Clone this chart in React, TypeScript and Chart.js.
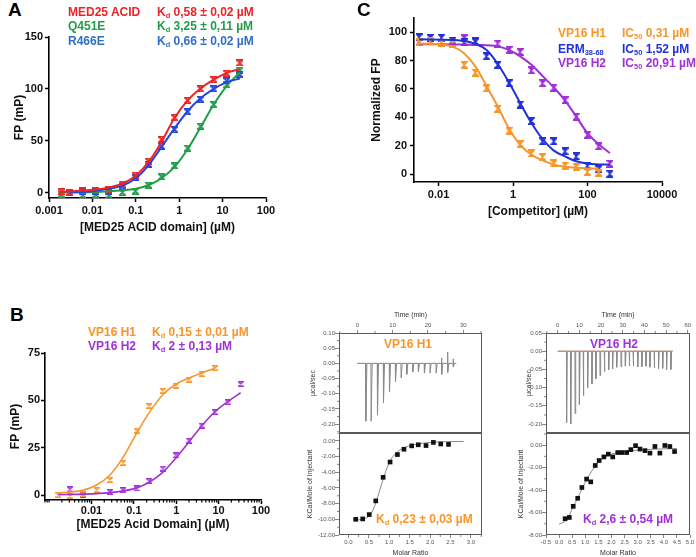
import React, { useEffect, useRef } from 'react';
import { Chart, registerables } from 'chart.js';

Chart.register(...registerables);

const FONT = '"Liberation Sans", Arial, Helvetica, sans-serif';

// ---------------- colours ----------------
const RED = '#ec2427';
const GREEN = '#1f9e48';
const BLUE_A_TEXT = '#2f6fc6';
const BLUE_A = '#2446e0';
const ORANGE = '#f7962b';
const PURPLE = '#a030d8';
const BLUE_C = '#2231d6';

// ---------------- Panel A ----------------
const A_SERIES = ['MED25 ACID', 'Q451E', 'R466E'];
const A_KD = ['0,58 ± 0,02 µM', '3,25 ± 0,11 µM', '0,66 ± 0,02 µM'];
const A_X_TICKS = [0.001, 0.01, 0.1, 1, 10, 100];
const A_X_LABELS = ['0.001', '0.01', '0.1', '1', '10', '100'];
const A_Y_TICKS = [0, 50, 100, 150];

const A_WT_CONC = [0.0019, 0.003, 0.006, 0.012, 0.024, 0.049, 0.098, 0.195, 0.39, 0.78, 1.56, 3.125, 6.25, 12.5, 25];
const A_WT_FP = [1, 0, 2, 2.6, 3, 8.3, 17, 30.4, 51.3, 72.4, 89, 100, 109, 115, 125];
const A_R466E_CONC = [0.003, 0.006, 0.012, 0.024, 0.049, 0.098, 0.195, 0.39, 0.78, 1.56, 3.125, 6.25, 12.5, 25];
const A_R466E_FP = [0, 1, 1, 1, 6.4, 14.7, 27.6, 45, 61, 78, 90, 100, 107.7, 114];
const A_Q451E_CONC = [0.0019, 0.006, 0.012, 0.024, 0.049, 0.098, 0.195, 0.39, 0.78, 1.56, 3.125, 6.25, 12.5, 25];
const A_Q451E_FP = [-1.3, -2.2, -1.6, -2.2, 0.3, 1.6, 7.4, 15.4, 26, 43, 64, 85, 104, 118];

const A_FIT_WT_X = [0.0019, 0.005, 0.01, 0.02, 0.05, 0.1, 0.2, 0.39, 0.78, 1.56, 3.1, 6.25, 12.5, 25];
const A_FIT_WT_Y = [1, 2, 3, 4.5, 9, 16.5, 30, 49, 72, 89, 100.5, 109, 115.5, 119];
const A_FIT_R466E_X = [0.003, 0.01, 0.02, 0.05, 0.1, 0.2, 0.39, 0.78, 1.56, 3.1, 6.25, 12.5, 25];
const A_FIT_R466E_Y = [0.5, 1.5, 3.5, 7, 14, 27, 44, 62, 78.5, 91, 100, 106.5, 110];
const A_FIT_Q451E_X = [0.0019, 0.01, 0.05, 0.1, 0.2, 0.39, 0.78, 1.56, 3.1, 6.25, 12.5, 25];
const A_FIT_Q451E_Y = [0.2, 0.8, 2.5, 4, 7.5, 14, 25, 42, 63, 85, 103, 116];

// ---------------- Panel B ----------------
const B_SERIES = ['VP16 H1', 'VP16 H2'];
const B_KD = ['0,15 ± 0,01 µM', '2 ± 0,13 µM'];
const B_X_TICKS = [0.01, 0.1, 1, 10, 100];
const B_X_LABELS = ['0.01', '0.1', '1', '10', '100'];
const B_Y_TICKS = [0, 25, 50, 75];

const B_H1_CONC = [0.00165, 0.0031, 0.0064, 0.0132, 0.0273, 0.056, 0.116, 0.23, 0.48, 0.98, 1.99, 3.97, 8.2];
const B_H1_FP = [0, -0.5, 0.5, 2.6, 8, 17, 34, 47, 55, 57.7, 61, 64, 67];
const B_H2_CONC = [0.0031, 0.0064, 0.0273, 0.056, 0.116, 0.23, 0.48, 0.98, 1.99, 3.97, 8.2, 16.8, 33];
const B_H2_FP = [3, 0, 1.6, 2.6, 3.5, 7.4, 14, 21, 28.8, 36.7, 43.8, 49, 58.6];
const B_FIT_H1_X = [0.00165, 0.0064, 0.0132, 0.0273, 0.056, 0.116, 0.23, 0.48, 0.98, 1.99, 3.97, 8.2];
const B_FIT_H1_Y = [1, 2.6, 5.3, 10.6, 20, 32.6, 43.5, 53, 58.5, 61.8, 64.5, 67];
const B_FIT_H2_X = [0.00165, 0.0064, 0.0273, 0.056, 0.116, 0.23, 0.48, 0.98, 1.99, 3.97, 8.2, 16.8, 33];
const B_FIT_H2_Y = [0.2, 0.5, 1.3, 2.2, 3.8, 6.8, 12, 19.5, 28, 36.5, 44, 49.5, 54];

// ---------------- Panel C ----------------
const C_IC50 = ['0,31 µM', '1,52 µM', '20,91 µM'];
const C_X_TICKS = [0.01, 1, 100, 10000];
const C_X_LABELS = ['0.01', '1', '100', '10000'];
const C_Y_TICKS = [0, 20, 40, 60, 80, 100];

const C_H1_CONC = [0.003, 0.006, 0.012, 0.024, 0.049, 0.098, 0.195, 0.39, 0.78, 1.56, 3.125, 6.25, 12.5, 25, 50, 100, 200];
const C_H1_FP = [93, 94, 92.5, 92, 77, 71.5, 60.5, 46, 30.5, 21, 14.5, 12, 7.5, 6, 5, 1.5, 1];
const C_ERM_CONC = [0.003, 0.006, 0.012, 0.024, 0.049, 0.098, 0.195, 0.39, 0.78, 1.56, 3.125, 6.25, 12.5, 25, 50, 100, 200, 400];
const C_ERM_FP = [96.4, 96, 96, 94, 93, 93.5, 83, 77, 64, 49, 37.5, 23, 23, 16, 12.4, 6, 3.5, 0.2];
const C_H2_CONC = [0.003, 0.049, 0.098, 0.39, 0.78, 1.56, 3.125, 6.25, 12.5, 25, 50, 100, 200, 400];
const C_H2_FP = [93, 95.7, 93, 92, 87.5, 86, 73, 64, 61, 52, 40.5, 27.7, 19.5, 7.3];

const C_FIT_H1_X = [0.003, 0.012, 0.024, 0.049, 0.098, 0.195, 0.39, 0.78, 1.56, 3.125, 6.25, 12.5, 25, 50, 100, 200];
const C_FIT_H1_Y = [92, 91.4, 89.8, 85, 75.7, 62, 47.6, 32, 20.6, 13.6, 9.6, 6.6, 5.2, 4.4, 4, 3.9];
const C_FIT_ERM_X = [0.003, 0.024, 0.049, 0.098, 0.195, 0.39, 0.78, 1.56, 3.125, 6.25, 12.5, 25, 50, 100, 200, 400];
const C_FIT_ERM_Y = [95, 94.5, 93.8, 91.7, 87.5, 77.6, 64.5, 50, 36, 24.6, 16.5, 12.4, 9, 7.3, 6.8, 6.6];
const C_FIT_H2_X = [0.003, 0.1, 0.39, 0.78, 1.56, 3.125, 6.25, 12.5, 25, 50, 100, 200, 400];
const C_FIT_H2_Y = [91.5, 91, 90, 87.5, 83, 77, 69, 61, 51.8, 40.5, 28.8, 21, 14.8];

// ---------------- ITC VP16 H1 ----------------
const ITC1_TIME_TICKS = [0, 10, 20, 30];
const ITC1_RAW_TICKS = [-0.2, -0.15, -0.1, -0.05, 0, 0.05, 0.1];
const ITC1_HEAT_TICKS = [-12, -10, -8, -6, -4, -2, 0];
const ITC1_RATIO_TICKS = [0, 0.5, 1, 1.5, 2, 2.5, 3];
const ITC1_INJ_TIME = [2.4, 3.9, 5.7, 7.4, 9.1, 10.8, 12.4, 14.0, 15.7, 17.3, 19.0, 20.6, 22.3, 23.9, 25.6, 27.2];
const ITC1_INJ_PEAK = [-0.19, -0.19, -0.17, -0.13, -0.094, -0.061, -0.048, -0.036, -0.028, -0.028, -0.032, -0.032, -0.032, -0.036, -0.03, -0.012];
const ITC1_INJ_UP = [0, 0, 0, 0, 0, 0, 0, 0, 0, 0, 0, 0, 0, 0.018, 0.037, 0.015];
const ITC1_TRACE_SPAN = [0, 28];
const ITC1_RATIO = [0.18, 0.35, 0.51, 0.67, 0.85, 1.02, 1.2, 1.36, 1.55, 1.71, 1.9, 2.08, 2.26, 2.45];
const ITC1_HEAT = [-10.0, -9.95, -9.4, -7.65, -4.65, -2.7, -1.75, -1.07, -0.64, -0.5, -0.6, -0.2, -0.4, -0.45];
const ITC1_FIT_X = [0.12, 0.3, 0.45, 0.55, 0.65, 0.75, 0.85, 0.95, 1.05, 1.2, 1.4, 1.7, 2.0, 2.4, 2.82];
const ITC1_FIT_Y = [-10.1, -10.05, -9.8, -9.3, -8.2, -6.6, -4.9, -3.4, -2.3, -1.4, -0.8, -0.4, -0.2, -0.1, -0.08];

// ---------------- ITC VP16 H2 ----------------
const ITC2_TIME_TICKS = [0, 10, 20, 30, 40, 50, 60];
const ITC2_RAW_TICKS = [-0.2, -0.15, -0.1, -0.05, 0, 0.05];
const ITC2_HEAT_TICKS = [-8, -6, -4, -2, 0];
const ITC2_RATIO_TICKS = [-0.5, 0, 0.5, 1, 1.5, 2, 2.5, 3, 3.5, 4, 4.5, 5];
const ITC2_INJ_TIME = [4.1, 6.0, 8.0, 10.0, 11.8, 13.8, 15.8, 17.6, 19.5, 21.5, 23.5, 25.3, 27.2, 29.2, 31.2, 33.0, 34.8, 36.9, 38.8, 40.7, 42.5, 44.5, 46.5, 48.4, 50.2, 52.2];
const ITC2_INJ_PEAK = [-0.196, -0.2, -0.171, -0.147, -0.122, -0.1, -0.09, -0.076, -0.067, -0.056, -0.051, -0.049, -0.044, -0.043, -0.041, -0.04, -0.041, -0.043, -0.043, -0.041, -0.044, -0.046, -0.048, -0.047, -0.051, -0.05];
const ITC2_INJ_UP = ITC2_INJ_TIME.map(() => 0);
const ITC2_TRACE_SPAN = [0, 53];
const ITC2_RATIO = [0.23, 0.39, 0.54, 0.71, 0.87, 1.05, 1.21, 1.38, 1.53, 1.71, 1.88, 2.05, 2.24, 2.4, 2.58, 2.74, 2.92, 3.09, 3.28, 3.47, 3.66, 3.85, 4.04, 4.23, 4.41];
const ITC2_HEAT = [-6.55, -6.44, -5.45, -4.73, -3.77, -3.02, -3.27, -1.81, -1.37, -1.05, -0.8, -1.05, -0.66, -0.66, -0.66, -0.4, -0.05, -0.35, -0.49, -0.71, -0.12, -0.71, -0.03, -0.12, -0.57];
const ITC2_FIT_X = [0.0, 0.3, 0.5, 0.75, 1.0, 1.25, 1.5, 1.75, 2.0, 2.5, 3.0, 3.5, 4.0, 4.5];
const ITC2_FIT_Y = [-7.05, -6.6, -5.7, -4.5, -3.3, -2.3, -1.55, -1.05, -0.8, -0.55, -0.45, -0.38, -0.33, -0.3];

// ---------------- helpers ----------------
const pts = (xs: number[], ys: number[]) => xs.map((x, i) => ({ x, y: ys[i] }));

function makeMarker(color: string, w: number, h: number, filled: boolean, lw: number) {
  const c = document.createElement('canvas');
  c.width = w;
  c.height = h;
  const g = c.getContext('2d')!;
  g.strokeStyle = color;
  g.fillStyle = color;
  g.lineWidth = lw;
  if (filled) {
    g.beginPath(); g.moveTo(0, 0); g.lineTo(w, 0); g.lineTo(w / 2, h / 2); g.closePath(); g.fill();
    g.beginPath(); g.moveTo(0, h); g.lineTo(w, h); g.lineTo(w / 2, h / 2); g.closePath(); g.fill();
  }
  g.beginPath();
  g.moveTo(0, lw / 2); g.lineTo(w, lw / 2);
  g.moveTo(0, h - lw / 2); g.lineTo(w, h - lw / 2);
  g.moveTo(0.5, 0.5); g.lineTo(w - 0.5, h - 0.5);
  g.moveTo(w - 0.5, 0.5); g.lineTo(0.5, h - 0.5);
  g.stroke();
  return c;
}

const pointSet = (xs: number[], ys: number[], marker: any) => ({
  data: pts(xs, ys), showLine: false, pointStyle: marker, pointRadius: 4, borderWidth: 0,
});
const fitSet = (xs: number[], ys: number[], color: string, w: number) => ({
  data: pts(xs, ys), showLine: true, borderColor: color, borderWidth: w, pointRadius: 0,
  cubicInterpolationMode: 'monotone', fill: false,
});

function traceData(span: number[], times: number[], peaks: number[], ups: number[]) {
  const out: { x: number; y: number }[] = [{ x: span[0], y: 0 }];
  times.forEach((t, i) => {
    out.push({ x: t - 0.06, y: 0 });
    if (ups[i]) out.push({ x: t - 0.03, y: ups[i] });
    out.push({ x: t, y: peaks[i] });
    out.push({ x: t + 0.3, y: 0 });
  });
  out.push({ x: span[1], y: 0 });
  return out;
}

const minorTickPlugin = {
  id: 'minorTicks',
  afterDraw(chart: any, _a: any, opts: any) {
    const items = opts && opts.items;
    if (!items) return;
    const ctx = chart.ctx;
    const ca = chart.chartArea;
    ctx.save();
    for (const it of items) {
      const s = chart.scales[it.scale];
      if (!s) continue;
      ctx.strokeStyle = it.color || '#000';
      ctx.lineWidth = it.width || 1;
      ctx.beginPath();
      for (const v of it.values) {
        if (v < s.min || v > s.max) continue;
        const p = s.getPixelForValue(v);
        if (s.isHorizontal()) {
          const top = s.position === 'top';
          const y0 = top ? ca.top : ca.bottom;
          ctx.moveTo(p, y0);
          ctx.lineTo(p, y0 + (top ? -it.len : it.len));
        } else {
          ctx.moveTo(ca.left, p);
          ctx.lineTo(ca.left - it.len, p);
        }
      }
      ctx.stroke();
    }
    ctx.restore();
  },
};

const framePlugin = {
  id: 'frame',
  afterDatasetsDraw(chart: any) {
    const { left, top, right, bottom } = chart.chartArea;
    const ctx = chart.ctx;
    ctx.save();
    ctx.strokeStyle = '#5a5a5a';
    ctx.lineWidth = 1;
    ctx.strokeRect(Math.round(left) + 0.5, Math.round(top) + 0.5, Math.round(right - left) - 1, Math.round(bottom - top) - 1);
    ctx.restore();
  },
};

function logMinors(min: number, max: number) {
  const out: number[] = [];
  for (let e = -5; e <= 4; e++) {
    for (let m = 1; m <= 9; m++) {
      const v = m * Math.pow(10, e);
      if (v >= min && v <= max && !(m === 1 && e >= -2)) out.push(v);
    }
  }
  return out;
}

function stepMinors(min: number, max: number, start: number, step: number) {
  const out: number[] = [];
  for (let v = start; v <= max + 1e-9; v += step) if (v >= min) out.push(v);
  return out;
}

const fixWidth = (w: number) => (s: any) => { s.width = w; s.paddingTop = 0; s.paddingBottom = 0; };
const fixHeight = (h: number) => (s: any) => { s.height = h; s.paddingLeft = 0; s.paddingRight = 0; };

// ---------------- FP chart config ----------------
function fpConfig(p: any) {
  const tickFont = { family: FONT, size: 11, weight: 'bold' as const };
  const titleFont = { family: FONT, size: 12, weight: 'bold' as const };
  return {
    type: 'scatter',
    data: { datasets: p.datasets },
    options: {
      animation: false,
      responsive: false,
      devicePixelRatio: 1,
      layout: { autoPadding: false, padding: { top: p.padTop, right: p.padRight, left: 0, bottom: 0 } },
      plugins: { legend: { display: false }, tooltip: { enabled: false }, minorTicks: { items: p.minor || [] } },
      scales: {
        x: {
          type: 'logarithmic',
          min: p.xmin,
          max: p.xmax,
          afterBuildTicks: (s: any) => { s.ticks = p.xTicks.map((v: number) => ({ value: v })); },
          afterFit: fixHeight(p.xH),
          ticks: {
            callback: (_v: any, i: number) => p.xLabels[i],
            autoSkip: false, maxRotation: 0, minRotation: 0, padding: p.xTickPad, color: '#111', font: tickFont,
          },
          grid: { display: true, drawOnChartArea: false, drawTicks: true, tickLength: p.tickLen, tickWidth: 1.5, tickColor: '#000' },
          border: { display: true, color: '#000', width: 1.6 },
          title: { display: true, text: p.xTitle, color: '#111', font: titleFont, padding: { top: 0, bottom: 0 } },
        },
        y: {
          type: 'linear',
          min: p.ymin,
          max: p.ymax,
          afterBuildTicks: (s: any) => { s.ticks = p.yTicks.map((v: number) => ({ value: v })); },
          afterFit: fixWidth(p.yW),
          ticks: { callback: (v: any) => String(v), padding: p.yTickPad, color: '#111', font: tickFont },
          grid: { display: true, drawOnChartArea: false, drawTicks: true, tickLength: p.tickLen, tickWidth: 1.5, tickColor: '#000' },
          border: { display: true, color: '#000', width: 1.6 },
          title: { display: true, text: p.yTitle, color: '#111', font: titleFont, padding: { top: p.yTitlePad, bottom: 0 } },
        },
      },
    },
    plugins: [minorTickPlugin],
  };
}

// ---------------- ITC chart config ----------------
function itcConfig(p: any) {
  const tickFont = { family: FONT, size: 6 };
  const yTickFont = { family: FONT, size: 6, lineHeight: 0.01 };
  const titleFont = { family: FONT, size: 7 };
  const gridX = { display: true, drawOnChartArea: false, drawTicks: true, tickLength: 3, tickWidth: 0.8, tickColor: '#666' };
  const gridY = { display: true, drawOnChartArea: false, drawTicks: true, tickLength: 4, tickWidth: 0.8, tickColor: '#666' };
  return {
    type: 'scatter',
    data: { datasets: p.datasets },
    options: {
      animation: false,
      responsive: false,
      devicePixelRatio: 1,
      layout: { autoPadding: false, padding: { top: p.padTop, right: p.padRight, left: 0, bottom: p.padBottom } },
      plugins: { legend: { display: false }, tooltip: { enabled: false }, minorTicks: { items: p.minor || [] } },
      scales: {
        x: {
          type: 'linear',
          position: p.xPos,
          min: p.xmin,
          max: p.xmax,
          afterBuildTicks: (s: any) => { s.ticks = p.xTicks.map((v: number) => ({ value: v })); },
          afterFit: fixHeight(p.xH),
          ticks: { callback: (v: number) => v.toFixed(p.xDec), autoSkip: false, maxRotation: 0, padding: 1, color: '#555', font: tickFont },
          grid: gridX,
          border: { display: false },
          title: { display: true, text: p.xTitle, color: '#333', font: titleFont, padding: { top: p.xTitlePadTop, bottom: 0 } },
        },
        y: {
          type: 'linear',
          min: p.ymin,
          max: p.ymax,
          afterBuildTicks: (s: any) => { s.ticks = p.yTicks.map((v: number) => ({ value: v })); },
          afterFit: fixWidth(p.yW),
          ticks: { callback: (v: number) => v.toFixed(2), padding: 0, color: '#555', font: yTickFont },
          grid: gridY,
          border: { display: false },
          title: { display: true, text: p.yTitle, color: '#333', font: titleFont, padding: { top: p.yTitlePad, bottom: 0 } },
        },
      },
    },
    plugins: [minorTickPlugin, framePlugin],
  };
}

// ---------------- builders ----------------
function buildA() {
  const mR = makeMarker(RED, 7, 7, false, 1.6);
  const mG = makeMarker(GREEN, 7, 7, false, 1.6);
  const mB = makeMarker(BLUE_A, 7, 7, false, 1.6);
  return fpConfig({
    datasets: [
      fitSet(A_FIT_WT_X, A_FIT_WT_Y, RED, 2),
      fitSet(A_FIT_R466E_X, A_FIT_R466E_Y, BLUE_A, 2),
      fitSet(A_FIT_Q451E_X, A_FIT_Q451E_Y, GREEN, 2),
      pointSet(A_WT_CONC, A_WT_FP, mR),
      pointSet(A_R466E_CONC, A_R466E_FP, mB),
      pointSet(A_Q451E_CONC, A_Q451E_FP, mG),
    ],
    xmin: 0.001, xmax: 100, xTicks: A_X_TICKS, xLabels: A_X_LABELS,
    ymin: -5, ymax: 150, yTicks: A_Y_TICKS,
    xTitle: '[MED25 ACID domain] (µM)', yTitle: 'FP (mP)',
    yW: 49, xH: 37, padTop: 10, padRight: 14, tickLen: 4, xTickPad: 2, yTickPad: 2, yTitlePad: 12.8,
  });
}

function buildB() {
  const mO = makeMarker(ORANGE, 6, 6, false, 1.3);
  const mP = makeMarker(PURPLE, 6, 6, false, 1.3);
  return fpConfig({
    datasets: [
      fitSet(B_FIT_H1_X, B_FIT_H1_Y, ORANGE, 1.6),
      fitSet(B_FIT_H2_X, B_FIT_H2_Y, PURPLE, 1.6),
      pointSet(B_H1_CONC, B_H1_FP, mO),
      pointSet(B_H2_CONC, B_H2_FP, mP),
    ],
    xmin: 0.0008, xmax: 100, xTicks: B_X_TICKS, xLabels: B_X_LABELS,
    ymin: -2.6, ymax: 75, yTicks: B_Y_TICKS,
    xTitle: '[MED25 Acid Domain] (µM)', yTitle: 'FP (mP)',
    yW: 45, xH: 32, padTop: 10, padRight: 19, tickLen: 4, xTickPad: 0, yTickPad: 1, yTitlePad: 8.8,
    minor: [{ scale: 'x', values: logMinors(0.0008, 100), len: 2.5, width: 1.2 }],
  });
}

function buildC() {
  const mO = makeMarker(ORANGE, 7, 8, true, 1.5);
  const mB = makeMarker(BLUE_C, 7, 8, true, 1.5);
  const mP = makeMarker(PURPLE, 7, 8, true, 1.5);
  return fpConfig({
    datasets: [
      fitSet(C_FIT_H1_X, C_FIT_H1_Y, ORANGE, 2),
      fitSet(C_FIT_ERM_X, C_FIT_ERM_Y, BLUE_C, 2),
      fitSet(C_FIT_H2_X, C_FIT_H2_Y, PURPLE, 2),
      pointSet(C_H1_CONC, C_H1_FP, mO),
      pointSet(C_ERM_CONC, C_ERM_FP, mB),
      pointSet(C_H2_CONC, C_H2_FP, mP),
    ],
    xmin: 0.00219, xmax: 10000, xTicks: C_X_TICKS, xLabels: C_X_LABELS,
    ymin: -5.6, ymax: 110, yTicks: C_Y_TICKS,
    xTitle: '[Competitor] (µM)', yTitle: 'Normalized FP',
    yW: 52, xH: 37, padTop: 8, padRight: 34, tickLen: 4, xTickPad: 2, yTickPad: 3, yTitlePad: 7.8,
  });
}

function traceSets(span: number[], times: number[], peaks: number[], ups: number[]) {
  return [
    { data: [{ x: span[0], y: 0 }, { x: span[1], y: 0 }], showLine: true, borderColor: '#e07a5a', borderWidth: 0.8, pointRadius: 0 },
    { data: traceData(span, times, peaks, ups), showLine: true, borderColor: '#8a8a8a', borderWidth: 1, pointRadius: 0, tension: 0 },
  ];
}

function heatSets(rx: number[], hy: number[], fx: number[], fy: number[]) {
  return [
    { data: pts(rx, hy), showLine: false, pointStyle: 'rect', pointRadius: 3.3, backgroundColor: '#111', borderWidth: 0 },
    { data: pts(fx, fy), showLine: true, borderColor: '#8a8a8a', borderWidth: 1, pointRadius: 0, cubicInterpolationMode: 'monotone' },
  ];
}

function buildItc1Top() {
  return itcConfig({
    datasets: traceSets(ITC1_TRACE_SPAN, ITC1_INJ_TIME, ITC1_INJ_PEAK, ITC1_INJ_UP),
    xPos: 'top', xmin: -5.2, xmax: 35.3, xTicks: ITC1_TIME_TICKS, xDec: 0, xTitle: 'Time (min)', xTitlePadTop: 5.8,
    ymin: -0.229, ymax: 0.1, yTicks: ITC1_RAW_TICKS, yTitle: 'µcal/sec', yTitlePad: 8.8,
    yW: 39, xH: 28, padTop: 0, padRight: 8, padBottom: 1,
    minor: [
      { scale: 'y', values: stepMinors(-0.229, 0.1, -0.225, 0.05), len: 2, color: '#666', width: 0.8 },
      { scale: 'x', values: stepMinors(-5.2, 35.3, -5, 10), len: 2, color: '#666', width: 0.8 },
    ],
  });
}

function buildItc1Bottom() {
  return itcConfig({
    datasets: heatSets(ITC1_RATIO, ITC1_HEAT, ITC1_FIT_X, ITC1_FIT_Y),
    xPos: 'bottom', xmin: -0.23, xmax: 3.27, xTicks: ITC1_RATIO_TICKS, xDec: 1, xTitle: 'Molar Ratio', xTitlePadTop: 0,
    ymin: -12, ymax: 1.0, yTicks: ITC1_HEAT_TICKS, yTitle: 'KCal/Mole of Injectant', yTitlePad: 5.8,
    yW: 39, xH: 22, padTop: 0, padRight: 8, padBottom: 0,
    minor: [
      { scale: 'y', values: stepMinors(-12, 1, -11, 2), len: 2, color: '#666', width: 0.8 },
      { scale: 'x', values: stepMinors(-0.23, 3.27, -0.25, 0.5), len: 2, color: '#666', width: 0.8 },
    ],
  });
}

function buildItc2Top() {
  return itcConfig({
    datasets: traceSets(ITC2_TRACE_SPAN, ITC2_INJ_TIME, ITC2_INJ_PEAK, ITC2_INJ_UP),
    xPos: 'top', xmin: -5.4, xmax: 61, xTicks: ITC2_TIME_TICKS, xDec: 0, xTitle: 'Time (min)', xTitlePadTop: 5.8,
    ymin: -0.2247, ymax: 0.05, yTicks: ITC2_RAW_TICKS, yTitle: 'µcal/sec', yTitlePad: 19.8,
    yW: 41, xH: 28, padTop: 0, padRight: 6, padBottom: 1,
    minor: [
      { scale: 'y', values: stepMinors(-0.2247, 0.05, -0.225, 0.05), len: 2, color: '#666', width: 0.8 },
      { scale: 'x', values: stepMinors(-5.4, 61, -5, 10), len: 2, color: '#666', width: 0.8 },
    ],
  });
}

function buildItc2Bottom() {
  return itcConfig({
    datasets: heatSets(ITC2_RATIO, ITC2_HEAT, ITC2_FIT_X, ITC2_FIT_Y),
    xPos: 'bottom', xmin: -0.5, xmax: 5.0, xTicks: ITC2_RATIO_TICKS, xDec: 1, xTitle: 'Molar Ratio', xTitlePadTop: 0,
    ymin: -8, ymax: 1.08, yTicks: ITC2_HEAT_TICKS, yTitle: 'KCal/Mole of Injectant', yTitlePad: 11.8,
    yW: 41, xH: 22, padTop: 0, padRight: 6, padBottom: 0,
    minor: [
      { scale: 'y', values: stepMinors(-8, 1.08, -7, 2), len: 2, color: '#666', width: 0.8 },
    ],
  });
}

// ---------------- components ----------------
function ChartBox(props: { left: number; top: number; width: number; height: number; build: () => any }) {
  const ref = useRef<HTMLCanvasElement>(null);
  useEffect(() => {
    const chart = new Chart(ref.current as HTMLCanvasElement, props.build());
    return () => chart.destroy();
  }, []);
  return (
    <canvas
      ref={ref}
      width={props.width}
      height={props.height}
      style={{ position: 'absolute', left: props.left, top: props.top, width: props.width, height: props.height }}
    />
  );
}

function Txt(props: { x: number; cy: number; size?: number; color: string; children: any }) {
  const size = props.size || 12;
  return (
    <div
      style={{
        position: 'absolute', left: props.x, top: props.cy - size / 2, fontSize: size, lineHeight: size + 'px',
        color: props.color, fontWeight: 700, fontFamily: FONT, whiteSpace: 'nowrap',
      }}
    >
      {props.children}
    </div>
  );
}

const Sub = (props: { children: any }) => (
  <span style={{ fontSize: '0.62em', verticalAlign: '-0.3em', lineHeight: 0 }}>{props.children}</span>
);

export default function App() {
  const aColors = [RED, GREEN, BLUE_A_TEXT];
  const aRows = [12, 26, 41];
  const cColors = [ORANGE, BLUE_C, PURPLE];
  const cRows = [33, 48.5, 63];
  const bColors = [ORANGE, PURPLE];
  const bRows = [332, 346];
  return (
    <div style={{ position: 'fixed', left: 0, top: 0, width: 696, height: 557, background: '#fff', overflow: 'hidden' }}>
      <ChartBox left={0} top={27} width={280} height={208} build={buildA} />
      <ChartBox left={362} top={10} width={334} height={209} build={buildC} />
      <ChartBox left={0} top={343} width={280} height={189} build={buildB} />
      <ChartBox left={300} top={305} width={190} height={129} build={buildItc1Top} />
      <ChartBox left={300} top={433} width={190} height={124} build={buildItc1Bottom} />
      <ChartBox left={505} top={305} width={191} height={129} build={buildItc2Top} />
      <ChartBox left={505} top={433} width={191} height={124} build={buildItc2Bottom} />

      <Txt x={8} cy={9} size={19} color="#000">A</Txt>
      <Txt x={357} cy={9} size={19} color="#000">C</Txt>
      <Txt x={10} cy={314} size={19} color="#000">B</Txt>

      {A_SERIES.map((s, i) => (
        <Txt key={'an' + i} x={68} cy={aRows[i]} color={aColors[i]}>{s}</Txt>
      ))}
      {A_KD.map((s, i) => (
        <Txt key={'ak' + i} x={157} cy={aRows[i]} color={aColors[i]}>K<Sub>d</Sub> {s}</Txt>
      ))}

      <Txt x={558} cy={cRows[0]} color={cColors[0]}>VP16 H1</Txt>
      <Txt x={558} cy={cRows[1]} color={cColors[1]}>ERM<Sub>38-68</Sub></Txt>
      <Txt x={558} cy={cRows[2]} color={cColors[2]}>VP16 H2</Txt>
      {C_IC50.map((s, i) => (
        <Txt key={'ci' + i} x={622} cy={cRows[i]} color={cColors[i]}>IC<Sub>50</Sub> {s}</Txt>
      ))}

      {B_SERIES.map((s, i) => (
        <Txt key={'bn' + i} x={88} cy={bRows[i]} color={bColors[i]}>{s}</Txt>
      ))}
      {B_KD.map((s, i) => (
        <Txt key={'bk' + i} x={152} cy={bRows[i]} color={bColors[i]}>K<Sub>d</Sub> {s}</Txt>
      ))}

      <Txt x={384} cy={344} color={ORANGE}>VP16 H1</Txt>
      <Txt x={376} cy={519} color={ORANGE}>K<Sub>d</Sub> 0,23 ± 0,03 µM</Txt>
      <Txt x={590} cy={344} color={PURPLE}>VP16 H2</Txt>
      <Txt x={583} cy={519} color={PURPLE}>K<Sub>d</Sub> 2,6 ± 0,54 µM</Txt>
    </div>
  );
}
